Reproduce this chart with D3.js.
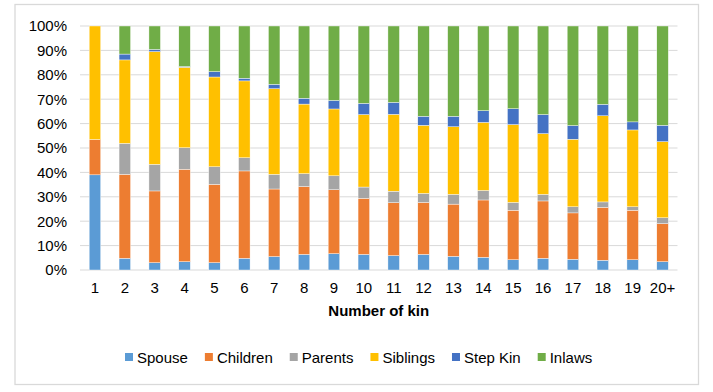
<!DOCTYPE html>
<html><head><meta charset="utf-8">
<script src="https://cdn.jsdelivr.net/npm/d3@7"></script>
<style>body{margin:0;background:#fff}svg{display:block;font-family:"Liberation Sans",Arial,sans-serif}</style>
</head><body><svg id="c" width="713" height="392"></svg>
<script>
const categories = ["1","2","3","4","5","6","7","8","9","10","11","12","13","14","15","16","17","18","19","20+"];
const seriesNames = ["Spouse","Children","Parents","Siblings","Step Kin","Inlaws"];
const spouse   = [39.0, 4.8, 3.0, 3.4, 3.0, 4.8, 5.5, 6.4, 6.7, 6.4, 5.9, 6.4, 5.6, 5.2, 4.2, 4.8, 4.4, 4.0, 4.2, 3.4];
const children = [14.5,34.4,29.4,37.9,32.1,35.8,27.7,27.8,26.2,23.0,21.7,21.3,21.4,23.5,20.3,23.5,19.0,21.7,20.3,15.6];
const parents  = [0,   12.7,10.9, 8.8, 7.2, 5.4, 6.0, 5.3, 5.7, 4.6, 4.7, 3.7, 4.0, 3.9, 3.2, 2.7, 2.5, 2.2, 1.4, 2.4];
const siblings = [46.5,34.2,46.2,33.0,36.8,31.5,35.1,28.5,27.4,29.7,31.5,27.9,27.7,27.9,31.9,24.9,27.7,35.3,31.5,31.2];
const stepKin  = [0,    2.4, 0.9, 0.3, 2.2, 1.1, 1.8, 2.4, 3.5, 4.6, 4.9, 3.7, 4.3, 4.8, 6.5, 7.8, 5.6, 4.7, 3.3, 6.7];
const inlaws   = [0,   11.5, 9.6,16.6,18.7,21.4,23.9,29.6,30.5,31.7,31.3,37.0,37.0,34.7,33.9,36.3,40.8,32.1,39.3,40.7];
const yTicks = [0,0.1,0.2,0.3,0.4,0.5,0.6,0.7,0.8,0.9,1.0];
const colors = ["#5B9BD5","#ED7D31","#A5A5A5","#FFC000","#4472C4","#70AD47"];
const xTitle = "Number of kin";

const seriesVals = [spouse, children, parents, siblings, stepKin, inlaws];
const rows = categories.map((c,i)=>{const r={cat:c}; seriesNames.forEach((s,j)=>r[s]=seriesVals[j][i]); return r;});
const stacked = d3.stack().keys(seriesNames).offset(d3.stackOffsetExpand)(rows);

const svg = d3.select("#c");
svg.append("rect").attr("x",15).attr("y",4.5).attr("width",683.5).attr("height",380)
  .attr("fill","none").attr("stroke","#d9d9d9").attr("stroke-width",1.3);

const x = d3.scaleBand().domain(categories).range([80,677.5]).paddingInner(0.615).paddingOuter(0.3075);
const y = d3.scaleLinear().domain([0,1]).range([270,26]);

svg.append("g").selectAll("line").data(yTicks).join("line")
  .attr("x1",80).attr("x2",677.5).attr("y1",d=>y(d)).attr("y2",d=>y(d))
  .attr("stroke","#d9d9d9").attr("stroke-width",1);

const yAxis = d3.axisLeft(y).tickValues(yTicks).tickFormat(d3.format(".0%")).tickSize(0).tickPadding(0);
const gy = svg.append("g").attr("transform","translate(67,0)").call(yAxis);
gy.select(".domain").remove();
gy.selectAll("text").attr("font-size",15).attr("fill","#000").attr("font-family","Liberation Sans, Arial, sans-serif");

svg.append("g").selectAll("g").data(stacked).join("g")
  .attr("fill",(d,i)=>colors[i])
  .selectAll("rect").data(d=>d).join("rect")
  .attr("x",d=>x(d.data.cat)).attr("width",x.bandwidth())
  .attr("y",d=>y(d[1])).attr("height",d=>Math.max(0,y(d[0])-y(d[1])))
  .attr("stroke","#fff").attr("stroke-width",0.4);

const xAxis = d3.axisBottom(x).tickSize(0).tickPadding(0);
const gx = svg.append("g").attr("transform","translate(0,282)").call(xAxis);
gx.select(".domain").remove();
gx.selectAll("text").attr("font-size",15).attr("fill","#000").attr("dy","0.71em").attr("font-family","Liberation Sans, Arial, sans-serif");

svg.append("text").attr("x",(80+677.5)/2).attr("y",316).attr("text-anchor","middle")
  .attr("font-size",15).attr("font-weight","bold").text(xTitle);

const lg = svg.append("g");
let cx = 0;
seriesNames.forEach((s,i)=>{
  const g = lg.append("g");
  g.append("rect").attr("x",0).attr("y",-10).attr("width",8).attr("height",8).attr("fill",colors[i]);
  const t = g.append("text").attr("x",12).attr("y",0).attr("font-size",15).text(s);
  const w = 12 + t.node().getComputedTextLength();
  g.attr("transform",`translate(${cx},0)`);
  cx += w + 17;
});
lg.attr("transform",`translate(125,363)`);
</script></body></html>
